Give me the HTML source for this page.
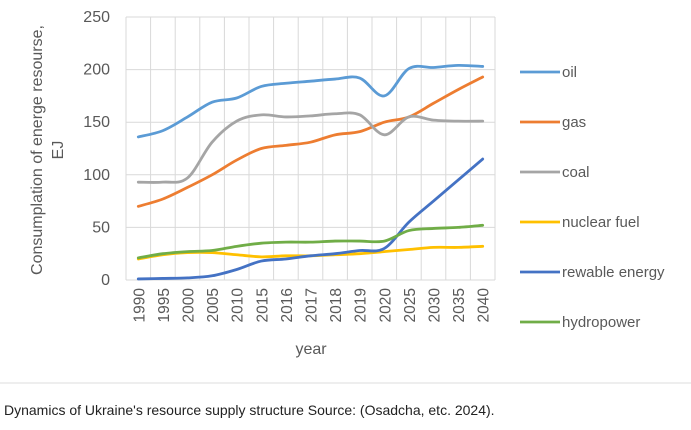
<!DOCTYPE html>
<html><head><meta charset="utf-8">
<style>
body{margin:0;background:#fff;width:691px;height:425px;overflow:hidden;font-family:"Liberation Sans",sans-serif}
svg text{font-family:"Liberation Sans",sans-serif}
</style></head>
<body>
<svg width="691" height="425">
<line x1="0" y1="383" x2="691" y2="383" stroke="#ddd"/>
<text x="4" y="415" font-size="14" fill="#222">Dynamics of Ukraine's resource supply structure Source: (Osadcha, etc. 2024).</text>
<g id="grid"></g><g id="series"></g><g id="ticks"></g>
<text transform="translate(46,150) rotate(-90)" text-anchor="middle" font-size="16" fill="#595959"><tspan x="0" dy="-4">Consumplation of energe resourse,</tspan><tspan x="0" dy="21">EJ</tspan></text>
<text x="311" y="354" text-anchor="middle" font-size="16" fill="#595959">year</text>
<g id="legend"></g>
</svg>
<script>
const categories=["1990","1995","2000","2005","2010","2015","2016","2017","2018","2019","2020","2025","2030","2035","2040"];
const yTicks=[0,50,100,150,200,250];
const seriesNames=["oil","gas","coal","nuclear fuel","rewable energy","hydropower"];
const seriesColors=["#5B9BD5","#ED7D31","#A5A5A5","#FFC000","#4472C4","#70AD47"];
const oil=[136,142,155,169,173,184,187,189,191,192,175,201,202,204,203];
const gas=[70,77,88,100,114,125,128,131,138,141,150,155,168,181,193];
const coal=[93,93,97,131,151,157,155,156,158,157,138,155,152,151,151];
const nuclear=[20,24,26,26,24,22,23,23,24,25,27,29,31,31,32];
const renewable=[1,1.5,2,4,10,18,20,23,25,28,30,55,75,95,115];
const hydro=[21,25,27,28,32,35,36,36,37,37,37,47,49,50,52];
const allSeries=[oil,gas,coal,nuclear,renewable,hydro];
const NS="http://www.w3.org/2000/svg";
const L=126,R=495,T=17,B=280,step=(R-L)/categories.length;
const x=i=>L+step*(i+0.5);
const y=v=>B-(v/250)*(B-T);
function mk(tag,attrs,parent){const e=document.createElementNS(NS,tag);for(const k in attrs)e.setAttribute(k,attrs[k]);parent.appendChild(e);return e;}
const grid=document.getElementById('grid'),ticks=document.getElementById('ticks'),ser=document.getElementById('series'),leg=document.getElementById('legend');
yTicks.forEach(t=>{const l=mk('line',{x1:L,x2:R,y1:y(t),y2:y(t),stroke:'#d9d9d9'},grid);


const tx=mk('text',{x:110,y:y(t)+5,'text-anchor':'end','font-size':16,fill:'#595959'},ticks);tx.textContent=t;

});
for(let i=0;i<=categories.length;i++){const l=mk('line',{x1:L+step*i,x2:L+step*i,y1:T,y2:B,stroke:'#d9d9d9'},grid);

}
categories.forEach((c,i)=>{const tx=mk('text',{transform:`translate(${x(i)+6},288) rotate(-90)`,'text-anchor':'end','font-size':15.5,fill:'#595959'},ticks);tx.textContent=c;

});
function path(vals){const p=vals.map((v,i)=>[x(i),y(v)]);let d=`M${p[0][0]},${p[0][1]}`;
for(let i=0;i<p.length-1;i++){const p0=p[i-1]||p[i],p1=p[i],p2=p[i+1],p3=p[i+2]||p2;
d+=` C${p1[0]+(p2[0]-p0[0])/6},${p1[1]+(p2[1]-p0[1])/6} ${p2[0]-(p3[0]-p1[0])/6},${p2[1]-(p3[1]-p1[1])/6} ${p2[0]},${p2[1]}`;}return d;}
allSeries.forEach((s,k)=>{const pa=mk('path',{d:path(s),fill:'none',stroke:seriesColors[k],'stroke-width':2.8,'stroke-linecap':'round'},ser);


const ly=72+k*50;
const g=mk('g',{},leg);


mk('line',{x1:520,x2:560,y1:ly,y2:ly,stroke:seriesColors[k],'stroke-width':2.8},g);
const t=mk('text',{x:562,y:ly+5,'font-size':15,fill:'#595959'},g);t.textContent=seriesNames[k];});
</script>
</body></html>
